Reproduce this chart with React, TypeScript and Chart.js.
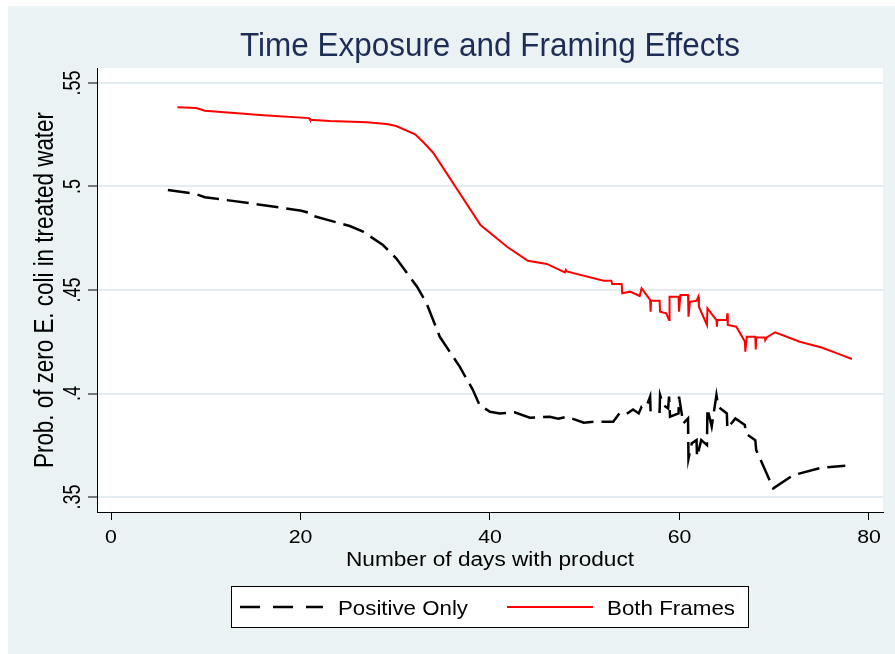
import React, { useEffect, useRef } from 'react';
import { Chart, registerables } from 'chart.js';

Chart.register(...registerables);

// ---------- data ----------
const TITLE = 'Time Exposure and Framing Effects';
const X_TITLE = 'Number of days with product';
const Y_TITLE = 'Prob. of zero E. coli in treated water';
const SERIES_NAMES = ['Positive Only', 'Both Frames'];

const xTicks = [0, 20, 40, 60, 80];
const xTickLabels = ['0', '20', '40', '60', '80'];
const yTicks = [0.35, 0.4, 0.45, 0.5, 0.55];
const yTickLabels = ['.35', '.4', '.45', '.5', '.55'];

const posDays = [
  6.0, 8.9, 9.9, 14.7, 20.1, 20.8, 21.0, 25.2, 26.6, 28.7, 30.1, 32.3, 33.3, 34.7, 36.8, 38.2, 38.9,
  40.0, 41.05, 42.6, 44.2, 46.3, 47.2, 48.1, 49.9, 51.1, 53.0, 53.7, 54.4, 55.1, 55.7, 56.0, 56.5,
  56.9, 56.95, 57.9, 57.95, 58.3, 58.8, 58.9, 59.0, 59.9, 59.95, 60.4, 60.9, 60.95, 61.3, 61.8,
  61.85, 62.3, 62.9, 62.95, 63.4, 63.9, 64.1, 65.0, 65.05, 65.9, 66.9, 67.0, 68.0, 68.1, 69.9,
  72.0, 74.9, 77.5,
];
const posProb = [
  0.4983, 0.4964, 0.4948, 0.4919, 0.4883, 0.4874, 0.4862, 0.4809, 0.4782, 0.4717, 0.4653, 0.4516,
  0.4436, 0.4274, 0.413, 0.4017, 0.3944, 0.3912, 0.3904, 0.3909, 0.3883, 0.3888, 0.3878, 0.3888,
  0.3859, 0.3864, 0.3864, 0.3907, 0.3901, 0.3923, 0.3904, 0.3936, 0.3936, 0.3985, 0.3912, 0.3912,
  0.3993, 0.3944, 0.3928, 0.3985, 0.3888, 0.3904, 0.3985, 0.3856, 0.388, 0.3686, 0.376, 0.3775,
  0.3695, 0.3775, 0.3751, 0.3928, 0.384, 0.3993, 0.3936, 0.3904, 0.3831, 0.388, 0.3848, 0.3807,
  0.3775, 0.3727, 0.3542, 0.3606, 0.3641, 0.3651,
];

const bothDays = [
  7.0, 9.0, 9.9, 16.1, 20.9, 21.0, 23.1, 27.0, 29.1, 30.1, 32.1, 33.0, 34.0, 39.0, 41.8, 44.0, 46.0,
  47.9, 48.0, 48.1, 52.0, 52.8, 52.9, 53.9, 53.95, 54.8, 55.8, 56.0, 56.9, 56.95, 57.0, 57.9, 57.95,
  58.6, 58.9, 58.95, 59.9, 59.95, 60.1, 60.9, 60.95, 61.1, 61.8, 62.0, 62.05, 62.9, 62.95, 63.9,
  63.95, 64.0, 65.0, 65.05, 65.1, 66.0, 66.9, 66.95, 67.1, 68.0, 68.05, 68.1, 69.0, 69.05, 69.2,
  70.1, 72.7, 75.0, 77.0, 78.2,
];
const bothProb = [
  0.5382, 0.5379, 0.5366, 0.5344, 0.533, 0.5322, 0.5316, 0.531, 0.5302, 0.5292, 0.5252, 0.5212,
  0.5163, 0.4814, 0.4709, 0.4641, 0.4626, 0.4585, 0.4597, 0.459, 0.4545, 0.4545, 0.4529, 0.4529,
  0.4484, 0.4492, 0.4471, 0.4508, 0.4452, 0.4395, 0.4448, 0.4448, 0.4395, 0.4387, 0.4355, 0.4468,
  0.4468, 0.4395, 0.4476, 0.4476, 0.4371, 0.4443, 0.4448, 0.4468, 0.4419, 0.4331, 0.4411, 0.4355,
  0.4323, 0.4355, 0.4355, 0.4387, 0.4331, 0.4323, 0.4251, 0.4202, 0.4274, 0.4274, 0.4213, 0.4271,
  0.4271, 0.4258, 0.4271, 0.4296, 0.425, 0.4222, 0.4188, 0.4167,
];

// ---------- styling ----------
const FONT = '"Liberation Sans", Arial, Helvetica, sans-serif';
const TITLE_COLOR = '#1E2D55';
const PANEL_BG = '#EAF2F3';
const GRID_COLOR = '#E3ECF0';
const POS_DASH = [22, 8];

function measure(ctx: CanvasRenderingContext2D, s: string, size: number) {
  ctx.save();
  ctx.font = `${size}px ${FONT}`;
  const w = ctx.measureText(s).width;
  ctx.restore();
  return w;
}

function drawText(
  ctx: CanvasRenderingContext2D,
  s: string,
  x: number,
  y: number,
  size: number,
  sx: number,
  sy: number,
  rot: number,
  align: CanvasTextAlign,
  color: string
) {
  ctx.save();
  ctx.translate(x, y);
  if (rot) ctx.rotate(rot);
  ctx.scale(sx, sy);
  ctx.font = `${size}px ${FONT}`;
  ctx.fillStyle = color;
  ctx.textAlign = align;
  ctx.textBaseline = 'alphabetic';
  ctx.fillText(s, 0, 0);
  ctx.restore();
}

const stataPlugin = {
  id: 'stataDecor',
  beforeDraw(chart: any) {
    const { ctx, chartArea: a } = chart;
    ctx.save();
    ctx.fillStyle = '#ffffff';
    ctx.fillRect(a.left, a.top, a.right - a.left, a.bottom - a.top);
    ctx.restore();
  },
  afterDraw(chart: any) {
    const { ctx, chartArea: a, scales } = chart;
    const cx = (a.left + a.right) / 2;
    const cy = (a.top + a.bottom) / 2;

    // title
    drawText(ctx, TITLE, cx, a.top - 12, 33, 500 / measure(ctx, TITLE, 33), 1, 0, 'center', TITLE_COLOR);

    // x tick labels
    xTicks.forEach((v, i) => {
      const px = scales.x.getPixelForValue(v);
      drawText(ctx, xTickLabels[i], px, a.bottom + 31, 19, 1.12, 1, 0, 'center', '#000');
    });

    // x title
    drawText(ctx, X_TITLE, cx, a.bottom + 54, 19.5, 288 / measure(ctx, X_TITLE, 19.5), 1, 0, 'center', '#000');

    // y tick labels (rotated)
    yTicks.forEach((v, i) => {
      const py = scales.y.getPixelForValue(v);
      drawText(ctx, yTickLabels[i], a.left - 17, py, 18, 1, 1.3, -Math.PI / 2, 'center', '#000');
    });

    // y title (rotated)
    drawText(ctx, Y_TITLE, a.left - 44, cy, 22.4, 356 / measure(ctx, Y_TITLE, 22.4), 1.2, -Math.PI / 2, 'center', '#000');

    // legend
    const lx0 = cx - 259;
    const lx1 = cx + 259;
    const ly0 = a.bottom + 74;
    const ly1 = a.bottom + 116;
    ctx.save();
    ctx.fillStyle = '#ffffff';
    ctx.fillRect(lx0, ly0, lx1 - lx0, ly1 - ly0);
    ctx.strokeStyle = '#000';
    ctx.lineWidth = 1;
    ctx.strokeRect(lx0 + 0.5, ly0 + 0.5, lx1 - lx0 - 1, ly1 - ly0 - 1);
    const lineY = a.bottom + 95;
    // black dashed sample
    ctx.beginPath();
    ctx.setLineDash([20, 13]);
    ctx.lineWidth = 2.5;
    ctx.strokeStyle = '#000';
    ctx.moveTo(lx0 + 9, lineY);
    ctx.lineTo(lx0 + 92, lineY);
    ctx.stroke();
    // red sample
    ctx.beginPath();
    ctx.setLineDash([]);
    ctx.lineWidth = 2;
    ctx.strokeStyle = '#FF0000';
    ctx.moveTo(lx0 + 276, lineY);
    ctx.lineTo(lx0 + 362, lineY);
    ctx.stroke();
    ctx.restore();
    const ty = a.bottom + 103;
    drawText(ctx, SERIES_NAMES[0], lx0 + 107, ty, 21, 130 / measure(ctx, SERIES_NAMES[0], 21), 1, 0, 'left', '#000');
    drawText(ctx, SERIES_NAMES[1], lx0 + 376, ty, 21, 128 / measure(ctx, SERIES_NAMES[1], 21), 1, 0, 'left', '#000');
  },
};

export default function App() {
  const ref = useRef<HTMLCanvasElement>(null);

  useEffect(() => {
    if (!ref.current) return;
    const chart = new Chart(ref.current, {
      type: 'line',
      data: {
        datasets: [
          {
            label: SERIES_NAMES[0],
            data: posDays.map((x, i) => ({ x, y: posProb[i] })),
            borderColor: '#000000',
            borderWidth: 2.5,
            borderDash: POS_DASH,
            pointRadius: 0,
            tension: 0,
            fill: false,
          },
          {
            label: SERIES_NAMES[1],
            data: bothDays.map((x, i) => ({ x, y: bothProb[i] })),
            borderColor: '#FF0000',
            borderWidth: 2,
            pointRadius: 0,
            tension: 0,
            fill: false,
          },
        ],
      },
      options: {
        animation: false,
        responsive: false,
        maintainAspectRatio: false,
        devicePixelRatio: 1,
        layout: { padding: { left: 0, right: 12, top: 62, bottom: 92 } },
        plugins: {
          legend: { display: false },
          title: { display: false },
          tooltip: { enabled: false },
        },
        scales: {
          x: {
            type: 'linear',
            min: -1.48,
            max: 81.48,
            afterBuildTicks: (s: any) => {
              s.ticks = xTicks.map((v) => ({ value: v }));
            },
            afterFit: (s: any) => {
              s.height = 50;
            },
            ticks: { display: false },
            grid: {
              drawOnChartArea: false,
              drawTicks: true,
              tickLength: 8,
              tickColor: '#000',
              tickWidth: 1,
            },
            border: { display: true, color: '#000', width: 1 },
          },
          y: {
            type: 'linear',
            min: 0.3428,
            max: 0.5572,
            afterBuildTicks: (s: any) => {
              s.ticks = yTicks.map((v) => ({ value: v }));
            },
            afterFit: (s: any) => {
              s.width = 89;
            },
            ticks: { display: false },
            grid: {
              color: GRID_COLOR,
              lineWidth: 2,
              drawTicks: true,
              tickLength: 9,
              tickColor: '#000',
              tickWidth: 1,
            },
            border: { display: true, color: '#000', width: 1 },
          },
        },
      },
      plugins: [stataPlugin],
    } as any);
    return () => chart.destroy();
  }, []);

  return (
    <div style={{ position: 'absolute', left: 0, top: 0, width: 895, height: 654, background: '#ffffff', overflow: 'hidden' }}>
      <div style={{ position: 'absolute', left: 8, top: 6, width: 887, height: 648, background: PANEL_BG }}>
        <canvas ref={ref} width={887} height={648} style={{ display: 'block', width: 887, height: 648 }} />
      </div>
    </div>
  );
}
